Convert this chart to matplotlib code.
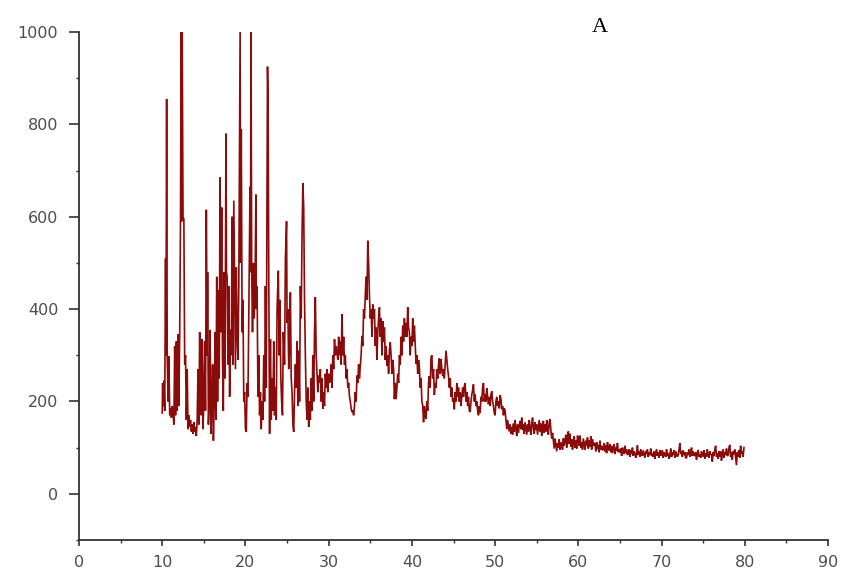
import matplotlib
matplotlib.use("Agg")
import matplotlib.pyplot as plt
from matplotlib.ticker import MultipleLocator

# ---- data (2-theta, counts) ----
two_theta_low = [
    10.00, 10.05, 10.10, 10.20, 10.30, 10.40, 10.45, 10.53, 10.60, 10.70,
    10.80, 10.90, 11.00, 11.10, 11.20, 11.30, 11.40, 11.50, 11.60, 11.70,
    11.80, 11.90, 12.00, 12.10, 12.20, 12.27, 12.35, 12.40, 12.50, 12.60,
    12.70, 12.80, 12.90, 13.00, 13.10, 13.20, 13.30, 13.40, 13.50, 13.60,
    13.70, 13.80, 13.90, 14.00, 14.10, 14.20, 14.30, 14.40, 14.50, 14.60,
    14.70, 14.80, 14.90, 15.00, 15.10, 15.20, 15.30, 15.40, 15.45, 15.55,
    15.65, 15.75, 15.85, 15.95, 16.05, 16.15, 16.25, 16.35, 16.45, 16.55,
    16.65, 16.75, 16.85, 16.95, 17.05, 17.14, 17.24, 17.34, 17.45, 17.55,
    17.66, 17.72, 17.80, 17.90, 18.00, 18.10, 18.20, 18.30, 18.40, 18.50,
    18.60, 18.70, 18.80, 18.90, 19.00, 19.10, 19.20, 19.36, 19.42, 19.50,
    19.60, 19.70, 19.80, 19.90, 20.00, 20.10, 20.20, 20.30, 20.40, 20.55,
    20.60, 20.67, 20.75, 20.85, 20.95, 21.05, 21.15, 21.26, 21.30, 21.40,
    21.50, 21.60, 21.70, 21.80, 21.90, 22.00, 22.10, 22.20, 22.30, 22.40,
    22.50, 22.65, 22.72, 22.80, 22.90, 23.00, 23.10, 23.20, 23.30, 23.40,
    23.50, 23.60, 23.70, 23.80, 23.95, 24.05, 24.15, 24.25, 24.35, 24.45,
    24.55, 24.70, 24.80, 24.94, 25.00, 25.10, 25.20, 25.30, 25.40, 25.50,
    25.60, 25.70, 25.80, 25.90, 26.00, 26.10, 26.20, 26.30, 26.40, 26.50,
    26.60, 26.70, 26.80, 26.90, 27.00, 27.10, 27.20, 27.30, 27.40,
]
counts_low = [
    175, 240, 190, 245, 180, 510, 300, 855, 300, 200,
    298, 170, 185, 165, 190, 175, 150, 320, 170, 330,
    180, 345, 190, 350, 600, 1000, 590, 1000, 600, 595,
    280, 300, 160, 270, 140, 170, 145, 160, 135, 150,
    130, 155, 135, 145, 125, 160, 270, 150, 350, 200,
    170, 335, 140, 200, 330, 180, 615, 300, 480, 150,
    200, 355, 130, 180, 280, 115, 200, 350, 160, 470,
    200, 440, 250, 685, 350, 620, 300, 180, 480, 250,
    780, 480, 470, 280, 450, 210, 355, 300, 600, 280,
    635, 460, 270, 490, 350, 290, 450, 1000, 500, 790,
    350, 420, 200, 220, 140, 134, 240, 210, 380, 665,
    480, 1000, 480, 350, 500, 380, 450, 648, 400, 450,
    210, 300, 170, 220, 140, 200, 160, 300, 200, 450,
    230, 925, 860, 480, 130, 335, 160, 250, 180, 330,
    170, 230, 160, 400, 483, 300, 420, 250, 200, 170,
    350, 280, 508, 590, 370, 400, 270, 320, 436, 250,
    220, 150, 134, 220, 280, 230, 330, 190, 310, 200,
    450, 380, 560, 673, 620, 420, 300, 200, 160,
]

two_theta_mid = [
    27.5, 27.6, 27.7, 27.8, 27.9,
    28.0, 28.1, 28.2, 28.3, 28.4, 28.5, 28.6, 28.7, 28.8, 28.9,
    29.0, 29.1, 29.2, 29.3, 29.4, 29.5, 29.6, 29.7, 29.8, 29.9,
    30.0, 30.1, 30.2, 30.3, 30.4, 30.5, 30.6, 30.7, 30.8, 30.9,
    31.0, 31.1, 31.2, 31.3, 31.4, 31.5, 31.6, 31.7, 31.8, 31.9,
    32.0, 32.1, 32.2, 32.3, 32.4, 32.5, 32.6, 32.7, 32.8, 32.9,
    33.0, 33.1, 33.2, 33.3, 33.4, 33.5, 33.6, 33.7, 33.8, 33.9,
    34.0, 34.1, 34.2, 34.3, 34.4, 34.5, 34.6, 34.7, 34.8, 34.9,
    35.0, 35.1, 35.2, 35.3, 35.4, 35.5, 35.6, 35.7, 35.8, 35.9,
    36.0, 36.1, 36.2, 36.3, 36.4, 36.5, 36.6, 36.7, 36.8, 36.9,
    37.0, 37.1, 37.2, 37.3, 37.4, 37.5, 37.6, 37.7, 37.8, 37.9,
    38.0, 38.1, 38.2, 38.3, 38.4, 38.5, 38.6, 38.7, 38.8, 38.9,
    39.0, 39.1, 39.2, 39.3, 39.4, 39.5, 39.6, 39.7, 39.8, 39.9,
    40.0, 40.1, 40.2, 40.3, 40.4, 40.5, 40.6, 40.7, 40.8, 40.9,
    41.0, 41.1, 41.2, 41.3, 41.4, 41.5, 41.6, 41.7, 41.8, 41.9,
    42.0, 42.1, 42.2, 42.3, 42.4, 42.5, 42.6, 42.7, 42.8, 42.9,
    43.0, 43.1, 43.2, 43.3, 43.4, 43.5, 43.6, 43.7, 43.8, 43.9,
    44.0, 44.1, 44.2, 44.3, 44.4, 44.5, 44.6, 44.7, 44.8, 44.9,
    45.0, 45.1, 45.2, 45.3, 45.4, 45.5, 45.6, 45.7, 45.8, 45.9,
    46.0, 46.1, 46.2, 46.3, 46.4, 46.5, 46.6, 46.7, 46.8, 46.9,
    47.0, 47.1, 47.2, 47.3, 47.4, 47.5, 47.6, 47.7, 47.8, 47.9,
    48.0, 48.1, 48.2, 48.3, 48.4, 48.5, 48.6, 48.7, 48.8, 48.9,
    49.0, 49.1, 49.2, 49.3, 49.4, 49.5, 49.6, 49.7, 49.8, 49.9,
    50.0, 50.1, 50.2, 50.3, 50.4, 50.5, 50.6, 50.7, 50.8, 50.9,
    51.0, 51.1, 51.2, 51.3, 51.4, 51.5, 51.6, 51.7, 51.8, 51.9,
]
counts_mid = [
    230, 145, 200, 160, 250,
    180, 300, 200, 350, 426, 300, 260, 220, 256, 240,
    270, 200, 250, 184, 220, 190, 260, 230, 270, 220,
    260, 240, 250, 280, 230, 300, 270, 335, 300, 320,
    306, 290, 340, 300, 330, 280, 389, 300, 340, 280,
    300, 250, 270, 230, 240, 210, 200, 185, 177, 180,
    170, 190, 220, 200, 256, 240, 280, 250, 277, 300,
    342, 320, 400, 380, 430, 470, 420, 548, 500, 429,
    380, 400, 340, 410, 380, 400, 320, 360, 290, 350,
    380, 404, 340, 380, 300, 374, 330, 360, 290, 320,
    277, 300, 260, 310, 328, 300, 260, 290, 270, 205,
    240, 205, 230, 260, 240, 300, 280, 340, 300, 364,
    330, 380, 340, 370, 340, 404, 360, 350, 300, 340,
    320, 380, 330, 364, 320, 281, 300, 260, 290, 274,
    230, 250, 200, 191, 155, 190, 170, 162, 200, 180,
    240, 255, 230, 296, 300, 250, 270, 214, 240, 230,
    270, 250, 280, 293, 260, 292, 270, 255, 270, 250,
    280, 310, 290, 270, 255, 230, 250, 210, 230, 200,
    206, 183, 220, 200, 240, 210, 230, 200, 220, 190,
    212, 230, 210, 233, 240, 200, 220, 190, 210, 180,
    177, 200, 215, 225, 237, 200, 215, 190, 200, 180,
    170, 190, 175, 210, 200, 230, 240, 200, 215, 200,
    229, 210, 194, 210, 190, 215, 222, 200, 190, 175,
    170, 200, 210, 190, 200, 185, 214, 205, 183, 190,
    170, 185, 180, 160, 140, 160, 148, 135, 150, 130,
]

two_theta_high = [
    52.0, 52.1, 52.2, 52.3, 52.4, 52.5, 52.6, 52.7, 52.8, 52.9,
    53.0, 53.1, 53.2, 53.3, 53.4, 53.5, 53.6, 53.7, 53.8, 53.9,
    54.0, 54.1, 54.2, 54.3, 54.4, 54.5, 54.6, 54.7, 54.8, 54.9,
    55.0, 55.1, 55.2, 55.3, 55.4, 55.5, 55.6, 55.7, 55.8, 55.9,
    56.0, 56.1, 56.2, 56.3, 56.4, 56.5, 56.6, 56.7, 56.8, 56.9,
    57.0, 57.1, 57.2, 57.3, 57.4, 57.5, 57.6, 57.7, 57.8, 57.9,
    58.0, 58.1, 58.2, 58.3, 58.4, 58.5, 58.6, 58.7, 58.8, 58.9,
    59.0, 59.1, 59.2, 59.3, 59.4, 59.5, 59.6, 59.7, 59.8, 59.9,
    60.0, 60.1, 60.2, 60.3, 60.4, 60.5, 60.6, 60.7, 60.8, 60.9,
    61.0, 61.1, 61.2, 61.3, 61.4, 61.5, 61.6, 61.7, 61.8, 61.9,
    62.0, 62.1, 62.2, 62.3, 62.4, 62.5, 62.6, 62.7, 62.8, 62.9,
    63.0, 63.1, 63.2, 63.3, 63.4, 63.5, 63.6, 63.7, 63.8, 63.9,
    64.0, 64.1, 64.2, 64.3, 64.4, 64.5, 64.6, 64.7, 64.8, 64.9,
    65.0, 65.1, 65.2, 65.3, 65.4, 65.5, 65.6, 65.7, 65.8, 65.9,
    66.0, 66.1, 66.2, 66.3, 66.4, 66.5, 66.6, 66.7, 66.8, 66.9,
    67.0, 67.1, 67.2, 67.3, 67.4, 67.5, 67.6, 67.7, 67.8, 67.9,
    68.0, 68.1, 68.2, 68.3, 68.4, 68.5, 68.6, 68.7, 68.8, 68.9,
    69.0, 69.1, 69.2, 69.3, 69.4, 69.5, 69.6, 69.7, 69.8, 69.9,
    70.0, 70.1, 70.2, 70.3, 70.4, 70.5, 70.6, 70.7, 70.8, 70.9,
    71.0, 71.1, 71.2, 71.3, 71.4, 71.5, 71.6, 71.7, 71.8, 71.9,
    72.0, 72.1, 72.2, 72.3, 72.4, 72.5, 72.6, 72.7, 72.8, 72.9,
    73.0, 73.1, 73.2, 73.3, 73.4, 73.5, 73.6, 73.7, 73.8, 73.9,
    74.0, 74.1, 74.2, 74.3, 74.4, 74.5, 74.6, 74.7, 74.8, 74.9,
    75.0, 75.1, 75.2, 75.3, 75.4, 75.5, 75.6, 75.7, 75.8, 75.9,
    76.0, 76.1, 76.2, 76.3, 76.4, 76.5, 76.6, 76.7, 76.8, 76.9,
    77.0, 77.1, 77.2, 77.3, 77.4, 77.5, 77.6, 77.7, 77.8, 77.9,
    78.0, 78.1, 78.2, 78.3, 78.4, 78.5, 78.6, 78.7, 78.8, 78.9,
    79.0, 79.1, 79.2, 79.3, 79.4, 79.5, 79.6, 79.7, 79.8, 79.9,
]
counts_high = [
    145, 128, 152, 135, 160, 140, 125, 150, 132, 148,
    158, 140, 165, 138, 150, 130, 155, 142, 128, 150,
    135, 160, 142, 128, 152, 165, 140, 130, 155, 138,
    150, 128, 145, 160, 135, 152, 126, 148, 158, 132,
    150, 135, 160, 142, 128, 155, 162, 138, 120, 132,
    115, 98, 120, 105, 92, 110, 100, 118, 95, 108,
    112, 96, 120, 104, 115, 128, 100, 122, 135, 108,
    130, 102, 118, 96, 112, 125, 100, 115, 98, 126,
    118, 104, 126, 100, 112, 96, 120, 108, 95, 115,
    105, 122, 98, 115, 102, 125, 96, 118, 104, 110,
    108, 92, 112, 98, 106, 90, 115, 96, 104, 94,
    97, 110, 92, 105, 88, 112, 98, 94, 108, 90,
    104, 88, 98, 108, 86, 100, 94, 110, 90, 96,
    90, 98, 82, 100, 92, 86, 104, 88, 96, 84,
    88, 96, 80, 94, 86, 100, 82, 92, 88, 78,
    86, 105, 84, 92, 80, 96, 88, 82, 94, 86,
    78, 92, 86, 96, 80, 90, 84, 98, 82, 88,
    80, 92, 76, 88, 96, 82, 90, 78, 95, 84,
    84, 94, 78, 90, 86, 80, 96, 82, 88, 76,
    82, 98, 80, 90, 84, 94, 78, 92, 86, 80,
    84, 96, 110, 86, 92, 80, 94, 84, 90, 78,
    78, 90, 84, 96, 80, 88, 100, 82, 92, 84,
    82, 90, 74, 88, 95, 80, 86, 78, 92, 82,
    82, 94, 76, 88, 80, 96, 84, 78, 92, 86,
    84, 70, 90, 82, 96, 104, 80, 88, 76, 92,
    80, 92, 72, 86, 96, 78, 90, 84, 98, 82,
    84, 100, 106, 80, 90, 74, 92, 86, 96, 80,
    62, 90, 80, 95, 78, 104, 86, 92, 80, 100,
]

x_ticks = [0, 10, 20, 30, 40, 50, 60, 70, 80, 90]
y_ticks = [0, 200, 400, 600, 800, 1000]
panel_label = "A"

assert len(two_theta_low) == len(counts_low)
assert len(two_theta_mid) == len(counts_mid)
assert len(two_theta_high) == len(counts_high)

two_theta = two_theta_low + two_theta_mid + two_theta_high
counts = counts_low + counts_mid + counts_high

W, H = 844, 576
fig = plt.figure(figsize=(W / 100, H / 100), dpi=100)
left, right, top, bottom = 79, 828, 32, 540
ax = fig.add_axes([left / W, 1 - bottom / H, (right - left) / W, (bottom - top) / H])

ax.plot(two_theta, counts, color="#8b0a0a", lw=1.2, solid_joinstyle="miter")

ax.set_xlim(0, 90)
ax.set_ylim(-100, 1000)
for s in ("top", "right"):
    ax.spines[s].set_visible(False)
for s in ("left", "bottom"):
    ax.spines[s].set_linewidth(1.3)
    ax.spines[s].set_color("#333333")

ax.set_xticks(x_ticks)
ax.set_yticks(y_ticks)
ax.xaxis.set_minor_locator(MultipleLocator(5))
ax.yaxis.set_minor_locator(MultipleLocator(100))
ax.tick_params(which="major", direction="out", width=1.2, color="#333333",
               labelsize=11.5, labelcolor="#4d4d4d")
ax.tick_params(axis="y", which="major", length=7, pad=8)
ax.tick_params(axis="x", which="major", length=4.5, pad=6)
ax.tick_params(which="minor", direction="out", length=2.5, width=1.0, color="#333333")

fig.text(600 / W, 1 - 28 / H, panel_label, family="Liberation Serif",
         fontsize=16, ha="center", va="center")

fig.savefig("out.png", dpi=100)
